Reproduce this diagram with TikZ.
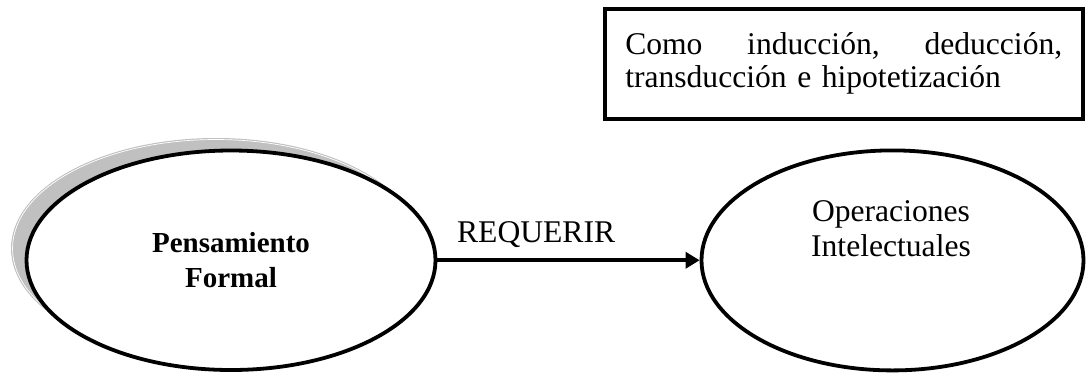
\documentclass[tikz,border=0pt]{standalone}
\usepackage{fontspec}
\setmainfont{Liberation Serif}
\usetikzlibrary{shapes.geometric,arrows.meta}
\definecolor{shd}{HTML}{C0C0C0}
\begin{document}
\begin{tikzpicture}[x=1pt,y=-1pt,
  oval/.style={ellipse, draw, line width=3.8pt, fill=white, inner sep=0pt},
  bigfont/.style={font=\fontsize{31.6}{35}\selectfont},
  boxfont/.style={font=\fontsize{31.6}{33}\selectfont},
  boldfont/.style={font=\fontsize{29}{35}\selectfont\bfseries},
  conn/.style={line width=3.8pt, -{Triangle[length=14pt,width=16pt]}},
  notebox/.style={draw, line width=4pt, rectangle, inner sep=0pt, align=left}
]
\useasboundingbox (0,0) rectangle (1090,376);
% shadow of the left ellipse
\fill[shd] (216,248.5) ellipse [x radius=205pt, y radius=110.5pt];
\draw[white, line width=0.7pt] (216,248.5) ellipse [x radius=203.5pt, y radius=109pt];
% ellipses
\node[oval, boldfont, align=center, minimum width=409pt, minimum height=219.5pt] (pf) at (231,260.25) {Pensamiento\\Formal};
\node[oval, minimum width=382pt, minimum height=220pt,
  label={[name=oit, bigfont, align=center, inner sep=0pt, yshift=31.6pt, xshift=-1.5pt]center:Operaciones\\Intelectuales}] (oi) at (892.5,260.4) {};
% connector
\draw[conn] (pf.east) -- (pf.east -| oi.west)
  node[pos=0.068, anchor=base west, yshift=18pt, inner sep=0pt, bigfont] (rq) {REQUERIR};
% note box
\node[notebox, boxfont, minimum width=477.5pt, minimum height=110pt, text width=437pt, yshift=3pt] (bx) at (843.75,66.5)
  {\makebox[437pt][s]{Como\hfill inducción,\hfill deducción,}\\transducción e hipotetización};
\end{tikzpicture}
\end{document}
